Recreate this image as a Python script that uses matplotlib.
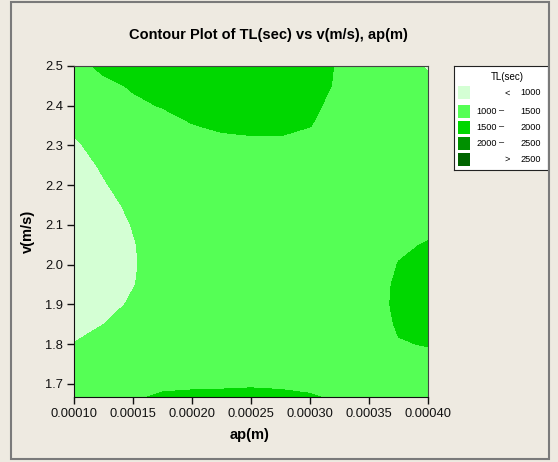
import matplotlib
matplotlib.use("Agg")
import matplotlib.pyplot as plt
import numpy as np
from matplotlib.patches import Rectangle

# grid of the fitted surface
ap_values = [0.0001, 0.000125, 0.00015, 0.000175, 0.0002, 0.000225, 0.00025,
             0.000275, 0.0003, 0.000325, 0.00035, 0.000375, 0.0004]
v_values = [1.667, 1.70, 1.75, 1.80, 1.85, 1.90, 1.95, 2.00, 2.05,
            2.10, 2.15, 2.20, 2.25, 2.30, 2.35, 2.40, 2.45, 2.50]
tl_grid = [
    [1300, 1380, 1460, 1545, 1590, 1610, 1617, 1600, 1540, 1430, 1350, 1300, 1280],
    [1240, 1300, 1380, 1430, 1425, 1427, 1450, 1425, 1400, 1380, 1350, 1330, 1330],
    [1120, 1200, 1280, 1340, 1360, 1360, 1360, 1360, 1360, 1360, 1350, 1350, 1400],
    [1012, 1132, 1252, 1330, 1330, 1330, 1330, 1330, 1330, 1320, 1350, 1480, 1515],
    [878, 998, 1118, 1238, 1300, 1300, 1300, 1300, 1300, 1300, 1324, 1536, 1620],
    [794, 914, 1034, 1154, 1260, 1290, 1290, 1290, 1290, 1290, 1383, 1550, 1660],
    [750, 870, 990, 1110, 1220, 1280, 1280, 1280, 1280, 1280, 1350, 1550, 1660],
    [740, 860, 980, 1100, 1210, 1280, 1280, 1280, 1280, 1280, 1310, 1510, 1620],
    [746, 866, 986, 1106, 1216, 1280, 1280, 1280, 1280, 1280, 1300, 1453, 1520],
    [770, 890, 1010, 1130, 1240, 1290, 1290, 1290, 1290, 1290, 1300, 1380, 1420],
    [808, 928, 1048, 1168, 1270, 1300, 1300, 1300, 1300, 1300, 1300, 1320, 1330],
    [861, 981, 1101, 1221, 1300, 1320, 1320, 1320, 1320, 1320, 1300, 1280, 1260],
    [909, 1029, 1149, 1269, 1330, 1360, 1380, 1380, 1360, 1330, 1290, 1250, 1220],
    [966, 1086, 1206, 1300, 1380, 1403, 1440, 1445, 1430, 1380, 1280, 1220, 1180],
    [1040, 1160, 1280, 1360, 1488, 1550, 1560, 1560, 1505, 1420, 1270, 1180, 1130],
    [1144, 1260, 1429, 1520, 1610, 1640, 1660, 1660, 1540, 1440, 1260, 1150, 1090],
    [1240, 1400, 1540, 1650, 1700, 1720, 1740, 1740, 1550, 1481, 1250, 1120, 1047],
    [1360, 1593, 1680, 1730, 1760, 1780, 1790, 1780, 1560, 1485, 1250, 1100, 980],
]

levels = [0, 1000, 1500, 2000, 2500, 10000]
level_colors = ["#D4FFD4", "#55FF55", "#00D700", "#009000", "#006400"]
legend_left = ["", "1000", "1500", "2000", ""]
legend_mid = ["<", "\u2013", "\u2013", "\u2013", ">"]
legend_right = ["1000", "1500", "2000", "2500", "2500"]

x_ticks = [0.0001, 0.00015, 0.0002, 0.00025, 0.0003, 0.00035, 0.0004]
y_ticks = [1.7, 1.8, 1.9, 2.0, 2.1, 2.2, 2.3, 2.4, 2.5]

W, H = 558, 462
BG = "#EEEAE1"
FONT = ["Liberation Sans", "DejaVu Sans"]


def fx(px):
    return px / W


def fy(py):
    return 1 - py / H


def main():
    plt.rcParams["font.family"] = FONT
    fig = plt.figure(figsize=(W / 100, H / 100), dpi=100, facecolor=BG)

    fig.patches.append(Rectangle((fx(11), fy(459)), fx(538), (459 - 2) / H,
                                 transform=fig.transFigure, fill=False,
                                 edgecolor="#7a7a7a", lw=1.5))

    ax = fig.add_axes([fx(74), fy(397), fx(428 - 74), (397 - 66) / H])
    X, Y = np.meshgrid(ap_values, v_values)
    Z = np.array(tl_grid, dtype=float)
    ax.contourf(X, Y, Z, levels=levels, colors=level_colors)
    ax.set_xlim(ap_values[0], ap_values[-1])
    ax.set_ylim(v_values[0], v_values[-1])

    ax.set_xticks(x_ticks)
    ax.set_xticklabels([f"{t:.5f}" for t in x_ticks])
    ax.set_yticks(y_ticks)
    ax.set_yticklabels([f"{t:.1f}" for t in y_ticks])
    ax.tick_params(direction="out", length=5, width=1, labelsize=9.3,
                   pad=3, colors="#111111")
    for side in ["left", "bottom"]:
        ax.spines[side].set_color("#111111")
    for side in ["top", "right"]:
        ax.spines[side].set_color("#444444")

    fig.text(fx(268), fy(35), "Contour Plot of TL(sec) vs v(m/s), ap(m)",
             ha="center", va="center", fontsize=10.5, fontweight="bold")
    fig.text(fx(250), fy(435), "ap(m)", ha="center", va="center",
             fontsize=10.5, fontweight="bold")
    fig.text(fx(28), fy(231), "v(m/s)", ha="center", va="center",
             rotation=90, fontsize=10.5, fontweight="bold")

    # legend box drawn by hand, Minitab style
    lg = fig.add_axes([fx(454), fy(170), fx(94), (170 - 66) / H])
    lg.set_xlim(0, 94)
    lg.set_ylim(104, 0)
    lg.set_xticks([])
    lg.set_yticks([])
    lg.set_facecolor("white")
    for s in lg.spines.values():
        s.set_color("#222222")
    lg.text(53, 11, "TL(sec)", ha="center", va="center", fontsize=7)
    row_y = [27, 45, 61, 77, 93]
    for i, col in enumerate(level_colors):
        y = row_y[i]
        lg.add_patch(Rectangle((4, y - 6.5), 12, 13, color=col, lw=0))
        if legend_left[i]:
            lg.text(22, y, legend_left[i], ha="left", va="center", fontsize=6.6)
        lg.text(48 if legend_left[i] else 53, y, legend_mid[i], ha="center",
                va="center", fontsize=6.6)
        lg.text(87, y, legend_right[i], ha="right", va="center", fontsize=6.6)

    fig.savefig("out.png", dpi=100, facecolor=BG)
    plt.close(fig)


if __name__ == "__main__":
    main()
